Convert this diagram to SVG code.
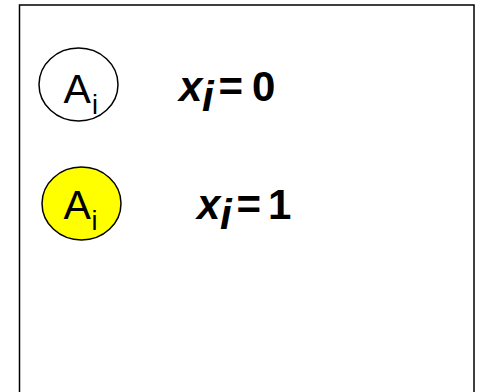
<svg xmlns="http://www.w3.org/2000/svg" width="477" height="392" viewBox="0 0 477 392">
<style>
.node{stroke:#000;stroke-width:1.5}
.lbl{font-family:"Liberation Sans",Arial,sans-serif;fill:#000}
.eq{font-family:"Liberation Sans",Arial,sans-serif;font-weight:bold;fill:#000;font-size:42px}
</style>
<rect x="19.5" y="5" width="454.5" height="400" fill="#fff" stroke="#000" stroke-width="1.5"/>
<g id="node-white">
<ellipse class="node" cx="78.5" cy="84.5" rx="39.5" ry="36.5" fill="#fff"/>
<text class="lbl" x="63.5" y="102.5" font-size="41">A</text>
<text class="lbl" x="92" y="113.5" font-size="27">i</text>
</g>
<g id="node-yellow">
<ellipse class="node" cx="81.5" cy="203.5" rx="39.5" ry="36.5" fill="#ffff00"/>
<text class="lbl" x="63.5" y="218.5" font-size="41">A</text>
<text class="lbl" x="91.5" y="229.5" font-size="27">i</text>
</g>
<g id="label-0">
<text class="eq" x="179" y="100.5" font-style="italic">x</text>
<text class="eq" x="202" y="110.5" font-style="italic">i</text>
<text class="eq" x="218.5" y="100.5">=</text>
<text class="eq" x="252" y="100.5">0</text>
</g>
<g id="label-1">
<text class="eq" x="197" y="219" font-style="italic">x</text>
<text class="eq" x="220" y="229" font-style="italic">i</text>
<text class="eq" x="236.5" y="219">=</text>
<text class="eq" x="268" y="219">1</text>
</g>
<g id="connectors"></g>
</svg>
